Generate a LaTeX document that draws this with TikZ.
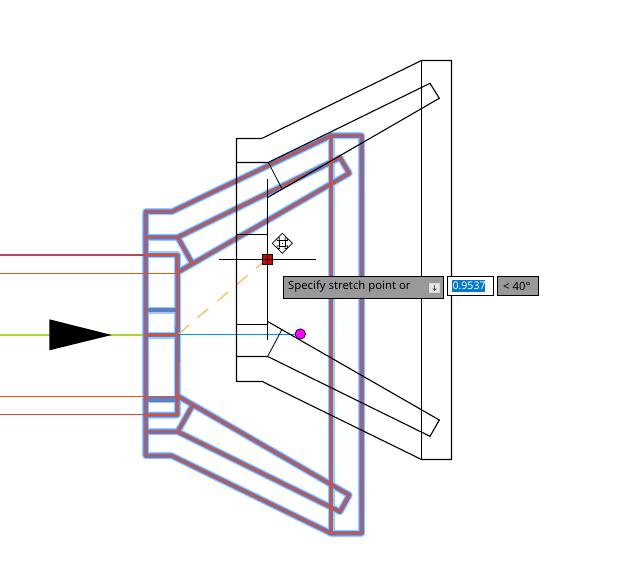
\documentclass[tikz,border=0pt]{standalone}
\usepackage{fontspec}
\setmainfont{Noto Sans}
\definecolor{glowA}{HTML}{A3C6FA}
\definecolor{glowB}{HTML}{3F84F0}
\definecolor{coreR}{HTML}{F04A12}
\definecolor{leadorange}{HTML}{FF4A10}
\definecolor{muted}{HTML}{777F8C}
\definecolor{tipgray}{HTML}{999999}
\definecolor{leadgreen}{HTML}{AAD62E}
\definecolor{leadblue}{HTML}{0091FF}
\definecolor{leadyellow}{HTML}{F9B233}
\definecolor{gripred}{HTML}{D70000}
\definecolor{selblue}{HTML}{0078D7}
\definecolor{rosy}{HTML}{B8475E}
\definecolor{brick}{HTML}{DC4530}
\definecolor{gripmag}{HTML}{FF00FF}
\tikzset{
  glowa/.style={draw=glowA,line width=7pt,line join=round,line cap=round},
  glowb/.style={draw=glowB,line width=4.6pt,line join=round,line cap=round},
  core/.style={draw=coreR,line width=1.9pt,line join=miter},
  cad/.style={draw=black,line width=1.1pt,line join=miter},
  thincad/.style={draw=black,line width=.8pt},
  tipbox/.style={draw=black,fill=tipgray,line width=1pt},
  tiptext/.style={font=\fontsize{11.3}{13}\selectfont,text=black,inner sep=0pt,anchor=west},
  numtext/.style={font=\fontsize{10.6}{13}\selectfont,text=white,inner sep=0pt,anchor=west}
}
\def\ghostpaths#1{%
  \draw[#1] (145.7,211.7)--(171.7,211.7)--(331,135.7)--(361.7,135.7)--(361.7,533.3)--(331,533.3)--(171.7,455.7)--(145.7,455.7)--cycle;
  \draw[#1] (331,135.7)--(331,533.3);
  \draw[#1] (145.7,237.3)--(177.7,237.3)--(340,157.7)--(349.3,173.3)--(177.7,272.3)--(177.3,415)--(145.7,415);
  \draw[#1] (145.7,255)--(177.3,255)--(177.3,272);
  \draw[#1] (177.7,237.3)--(192.3,263.3);
  \draw[#1] (145.7,431.7)--(177.7,431.7)--(340,511.7)--(349.3,495)--(177.7,396);
  \draw[#1] (177.7,431.7)--(192.3,406);
  \draw[#1] (145.7,310)--(177.3,310);
  \draw[#1] (145.7,335)--(177.3,335);
  \draw[#1] (145.7,399.5)--(177.3,399.5);
}
\begin{document}
\begin{tikzpicture}[x=1pt,y=-1pt]
\useasboundingbox (0,0) rectangle (624,580);
\fill[white] (0,0) rectangle (624,580);
% stretched copy
\ghostpaths{glowa}
\ghostpaths{glowb}
\ghostpaths{core}
\draw[draw=muted,line width=2pt] (148,310)--(175,310);
\draw[draw=muted,line width=2pt] (148,399.5)--(175,399.5);
% construction lines from the left
\draw[draw=rosy,line width=1.4pt] (0,255)--(146,255);
\draw[draw=leadorange,line width=1.2pt] (0,273.3)--(177,273.3);
\draw[draw=leadorange,line width=1.2pt] (0,396.3)--(177,396.3);
\draw[draw=brick,line width=1.2pt] (0,414.7)--(146,414.7);
\draw[draw=leadgreen,line width=1.5pt] (0,335)--(143,335);
% preview helpers
\draw[draw=leadblue,line width=1pt] (179,334.5)--(296,334.5);
\draw[draw=leadyellow,line width=1pt,dash pattern=on 14pt off 11.6pt] (267,259)--(179,333.5);
% original
\draw[cad] (236.5,138.5)--(261.7,138.5)--(421.5,60.5)--(451.5,60.5)--(451.5,459.5)--(421.5,459.5)--(262.3,381.5)--(236.5,381.5)--cycle;
\draw[draw=black,line width=1pt] (421.5,60.5)--(421.5,459.5);
\draw[cad] (236.5,162.5)--(268.3,162.5)--(430,83.3)--(439.3,98.3)--(267.3,197.7);
\draw[cad] (236.5,356.5)--(267.7,356.5)--(430,436.3)--(439.3,420)--(267.7,321.5);
\draw[cad] (236.5,234.5)--(267.5,234.5);
\draw[cad] (236.5,324.5)--(267.5,324.5);
\draw[thincad] (268.3,162.3)--(281.7,188.3);
\draw[thincad] (267.7,356.3)--(281.7,330);
% crosshair
\draw[thincad,line width=1pt] (267.5,179.3)--(267.5,340);
\draw[thincad,line width=1pt] (219,259.5)--(315.7,259.5);
% grip
\draw[draw=black,fill=gripred,line width=.8pt] (262.3,254)rectangle(272.7,264.3);
\draw[draw=black,line width=.6pt] (267.5,254)--(267.5,264.3) (262.3,259.2)--(272.7,259.2);
\draw[draw=black,fill=gripmag,line width=.7pt] (300.3,334) circle (5.2);
% cursor
\draw[draw=black,fill=white,line width=.7pt] (282.3,233.2)--(287,238)--(285,238)--(285,240.5)--(287.5,240.5)--(287.5,238.5)--(292.4,243.3)--(287.5,248.1)--(287.5,246)--(285,246)--(285,248.5)--(287,248.5)--(282.3,253.4)--(277.6,248.5)--(279.6,248.5)--(279.6,246)--(277.1,246)--(277.1,248.1)--(272.2,243.3)--(277.1,238.5)--(277.1,240.5)--(279.6,240.5)--(279.6,238)--(277.6,238)--cycle;
\draw[draw=black,fill=white,line width=.6pt] (279.3,240.3) rectangle (285.3,246.3);
\fill[black] (281.6,242.6) rectangle (283,244);
% tooltip
\path[tipbox] (283.5,276.5) rectangle (443.5,298.5);
\node[tiptext] (tipA) at (288,286.2) {Specify stretch point or};
\draw[draw=white!85!black,fill=white!75!tipgray,line width=.6pt] (429.5,283) rectangle (439.5,292.7);
\fill[tipgray!60!black] (432,288.5)--(437,288.5)--(434.5,291)--cycle;
\fill[tipgray!60!black] (433.7,284.5) rectangle (435.3,288.5);
\draw[draw=black,fill=white,line width=1pt] (447.5,276.5) rectangle (493.5,295.5);
\fill[selblue] (452,280) rectangle (485.3,291.7);
\node[numtext] (tipB) at (452.3,286) {0.9537};
\path[tipbox] (497.5,276.5) rectangle (538.5,295.5);
\node[tiptext] (tipC) at (503,286) {< 40°};
% direction arrow
\fill[black] (49.3,319.3)--(111.7,335)--(49.3,350.3)--cycle;
\end{tikzpicture}
\end{document}
